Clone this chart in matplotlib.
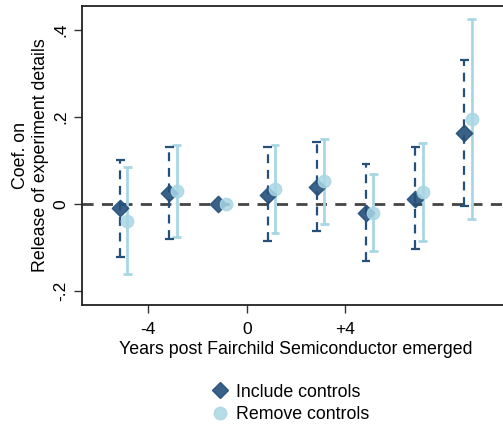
import numpy as np
import matplotlib
matplotlib.use("Agg")
import matplotlib.pyplot as plt
from matplotlib.lines import Line2D

plt.rcParams['font.family'] = ['Liberation Sans', 'DejaVu Sans']

years = [-5, -3, -1, 1, 3, 5, 7, 9]

# Include controls
inc_coef = [-0.010, 0.025, 0.0, 0.021, 0.040, -0.020, 0.012, 0.164]
inc_lo = [-0.121, -0.080, 0.0, -0.085, -0.063, -0.131, -0.103, -0.005]
inc_hi = [0.101, 0.130, 0.0, 0.130, 0.143, 0.092, 0.130, 0.331]

# Remove controls
rem_coef = [-0.038, 0.030, 0.0, 0.035, 0.052, -0.020, 0.027, 0.195]
rem_lo = [-0.161, -0.076, 0.0, -0.066, -0.045, -0.107, -0.085, -0.034]
rem_hi = [0.086, 0.136, 0.0, 0.136, 0.150, 0.069, 0.140, 0.425]

xticks = [-4, 0, 4]
xticklabels = ['-4', '0', '+4']
yticks = [-0.2, 0, 0.2, 0.4]
yticklabels = ['-.2', '0', '.2', '.4']

dark = '#24507a'
light = '#a9d6e5'

fig = plt.figure(figsize=(5.03, 4.29), dpi=100)
ax = fig.add_axes([0.163, 0.289, 0.85, 0.697])

x_inc = np.array(years) - 0.15
x_rem = np.array(years) + 0.15

ax.axhline(0, color='#444444', lw=2, ls=(0, (4, 3)), zorder=1)

# CI bars, skipping the reference year
for i in range(len(years)):
    if inc_lo[i] == inc_hi[i]:
        continue
    ax.vlines(x_rem[i], rem_lo[i], rem_hi[i], color=light, lw=2, zorder=2)
    ax.hlines([rem_lo[i], rem_hi[i]], x_rem[i] - 0.18, x_rem[i] + 0.18, color=light, lw=2, zorder=2)
    ax.vlines(x_inc[i], inc_lo[i], inc_hi[i], color=dark, lw=1.6, linestyles=(0, (4, 3)), zorder=3)
    ax.hlines([inc_lo[i], inc_hi[i]], x_inc[i] - 0.18, x_inc[i] + 0.18, color=dark, lw=1.6, zorder=3)

ax.scatter(x_inc, inc_coef, marker='D', s=70, color=dark, alpha=0.9, zorder=4)
ax.scatter(x_rem, rem_coef, marker='o', s=80, color=light, alpha=0.85, zorder=5)

ax.set_xlim(-6.7, 10.69)
ax.set_ylim(-0.232, 0.455)
ax.set_xticks(xticks)
ax.set_xticklabels(xticklabels, fontsize=12.5)
ax.set_yticks(yticks)
ax.set_yticklabels(yticklabels, fontsize=12.5, rotation=90, va='center')
ax.tick_params(length=6, width=1, color='#333333', pad=4)
ax.tick_params(axis='x', pad=6)
for s in ['left', 'top', 'bottom']:
    ax.spines[s].set_linewidth(1.3)
    ax.spines[s].set_color('#222222')
ax.spines['right'].set_visible(False)

ax.set_xlabel('Years post Fairchild Semiconductor emerged', fontsize=12.8, labelpad=3)
ax.set_ylabel('Coef. on\nRelease of experiment details', fontsize=12.8, labelpad=3)

handles = [
    Line2D([], [], marker='D', color=dark, ls='none', markersize=8, alpha=0.9),
    Line2D([], [], marker='o', color=light, ls='none', markersize=9, alpha=0.85),
]
fig.legend(handles, ['Include controls', 'Remove controls'], loc='center',
           bbox_to_anchor=(0.575, 0.06), frameon=False, fontsize=12.8,
           handletextpad=0.3, labelspacing=0.3, handlelength=1.2)

fig.savefig('out.png', dpi=100)
